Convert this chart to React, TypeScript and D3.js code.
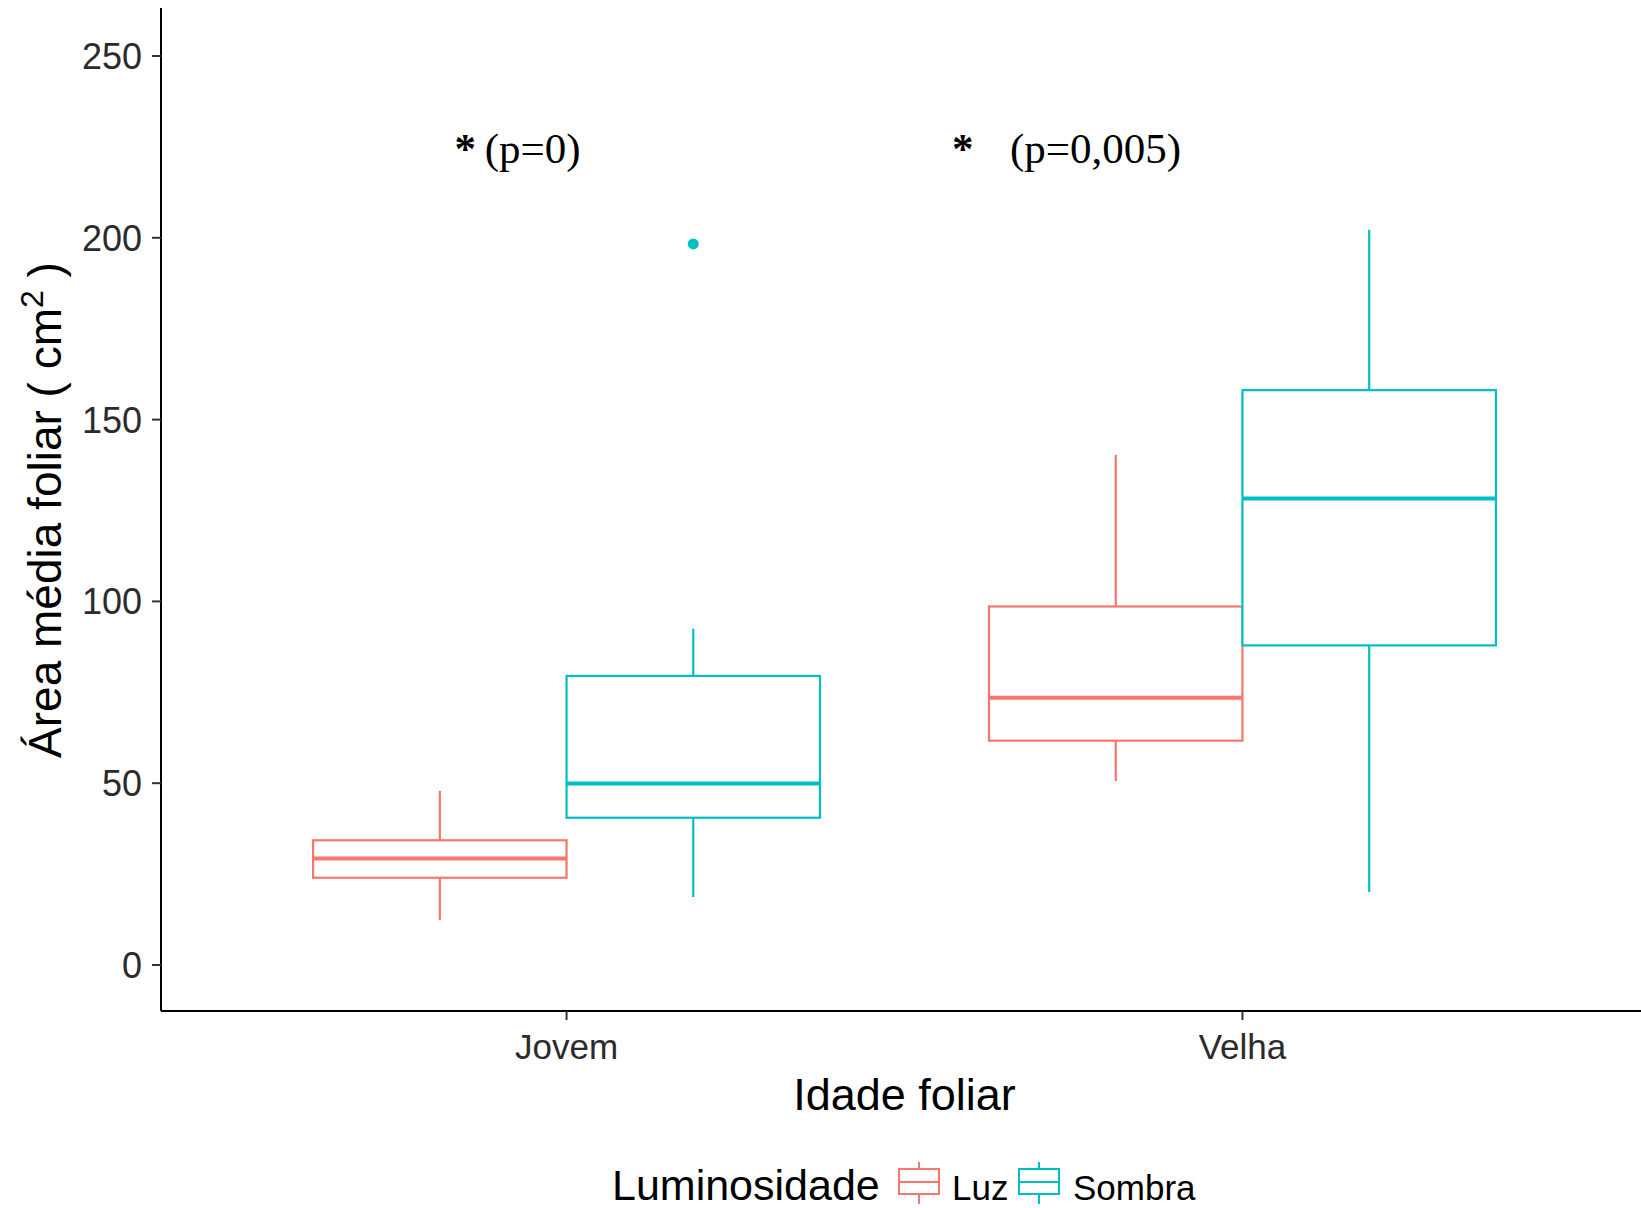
import React from "react";
import * as d3 from "d3";

const ageCategories = ["Jovem", "Velha"];
const lightGroups = ["Luz", "Sombra"];
const groupColors = ["#F8766D", "#00BFC4"];

// [lowerWhisker, Q1, median, Q3, upperWhisker] per age, per light group
const luzStats = [
  [12.3, 24.0, 29.3, 34.3, 47.9],
  [50.6, 61.7, 73.5, 98.6, 140.3],
];
const sombraStats = [
  [18.7, 40.5, 49.9, 79.5, 92.5],
  [20.1, 87.9, 128.3, 158.1, 202.2],
];
const sombraOutliers = [[198.3], []];
const luzOutliers = [[], []];

const yTicks = [0, 50, 100, 150, 200, 250];

const annotations = [
  { star: 0.85, textX: 0.879, y: 220.5, label: "(p=0)" },
  { star: 1.586, textX: 1.656, y: 220.5, label: "(p=0,005)" },
];

const W = 1641;
const H = 1208;
const panel = { left: 161, right: 1648, top: 8, bottom: 1011 };

export default function App() {
  const x = d3.scaleLinear().domain([0.4, 2.6]).range([panel.left, panel.right]);
  const y = d3.scaleLinear().domain([0, 250]).range([965, 56]);
  const dodge = 0.75;
  const boxW = dodge / 2;

  const series = [
    { name: lightGroups[0], color: groupColors[0], stats: luzStats, out: luzOutliers, offset: -boxW / 2 },
    { name: lightGroups[1], color: groupColors[1], stats: sombraStats, out: sombraOutliers, offset: boxW / 2 },
  ];

  const sans = "'Liberation Sans', Arial, sans-serif";
  const serif = "'Liberation Serif', 'Times New Roman', serif";

  return (
    <svg
      width={W}
      height={H}
      style={{ position: "absolute", left: 0, top: 0, background: "#fff" }}
      fontFamily={sans}
    >
      <rect x={0} y={0} width={W} height={H} fill="#fff" />
      {/* boxes */}
      {series.map((s) =>
        s.stats.map((st, i) => {
          const c = i + 1 + s.offset;
          const x0 = x(c - boxW / 2);
          const x1 = x(c + boxW / 2);
          const xc = x(c);
          const [lo, q1, med, q3, hi] = st;
          return (
            <g key={s.name + i} stroke={s.color} fill="#fff">
              <line x1={xc} x2={xc} y1={y(hi)} y2={y(q3)} strokeWidth={2.2} />
              <line x1={xc} x2={xc} y1={y(q1)} y2={y(lo)} strokeWidth={2.2} />
              <rect x={x0} y={y(q3)} width={x1 - x0} height={y(q1) - y(q3)} strokeWidth={2.2} fill="#fff" />
              <line x1={x0} x2={x1} y1={y(med)} y2={y(med)} strokeWidth={4} />
              {s.out[i].map((o, k) => (
                <circle key={k} cx={xc} cy={y(o)} r={5.5} fill={s.color} stroke="none" />
              ))}
            </g>
          );
        })
      )}

      {/* annotations */}
      {annotations.map((a, i) => (
        <g key={i} fontFamily={serif} fontSize={43} fill="#000">
          <text x={x(a.star)} y={y(a.y)} textAnchor="middle" fontWeight="bold">*</text>
          <text x={x(a.textX)} y={y(a.y)}>{a.label}</text>
        </g>
      ))}

      {/* axes */}
      <line x1={panel.left} x2={panel.left} y1={panel.top} y2={panel.bottom} stroke="#000" strokeWidth={2} />
      <line x1={panel.left} x2={W} y1={panel.bottom} y2={panel.bottom} stroke="#000" strokeWidth={2} />
      {yTicks.map((t) => (
        <g key={t}>
          <line x1={panel.left - 9} x2={panel.left} y1={y(t)} y2={y(t)} stroke="#333" strokeWidth={2} />
          <text x={142} y={y(t)} dy="0.36em" textAnchor="end" fontSize={36} fill="#2b2b2b">{t}</text>
        </g>
      ))}
      {ageCategories.map((c, i) => (
        <g key={c}>
          <line x1={x(i + 1)} x2={x(i + 1)} y1={panel.bottom} y2={panel.bottom + 9} stroke="#333" strokeWidth={2} />
          <text x={x(i + 1)} y={1059} textAnchor="middle" fontSize={35} fill="#2b2b2b">{c}</text>
        </g>
      ))}
      <text x={(panel.left + panel.right) / 2} y={1110} textAnchor="middle" fontSize={45} fill="#000">Idade foliar</text>
      <text transform={`translate(61, 510) rotate(-90)`} textAnchor="middle" fontSize={46} fill="#000">
        <tspan>Área média foliar ( cm</tspan>
        <tspan dy={-18} fontSize={32}>2</tspan>
        <tspan dy={18}> )</tspan>
      </text>

      {/* legend */}
      <text x={612} y={1200} fontSize={43} fill="#000">Luminosidade</text>
      {series.map((s, i) => {
        const kx = i === 0 ? 899 : 1019;
        const lx = i === 0 ? 952 : 1073;
        const kw = 40;
        const cx = kx + kw / 2;
        return (
          <g key={s.name}>
            <line x1={cx} x2={cx} y1={1162} y2={1169} stroke={s.color} strokeWidth={2} />
            <line x1={cx} x2={cx} y1={1194} y2={1204} stroke={s.color} strokeWidth={2} />
            <rect x={kx} y={1169} width={kw} height={25} fill="#fff" stroke={s.color} strokeWidth={2} />
            <line x1={kx} x2={kx + kw} y1={1182} y2={1182} stroke={s.color} strokeWidth={2} />
            <text x={lx} y={1200} fontSize={35} fill="#000">{s.name}</text>
          </g>
        );
      })}
    </svg>
  );
}
